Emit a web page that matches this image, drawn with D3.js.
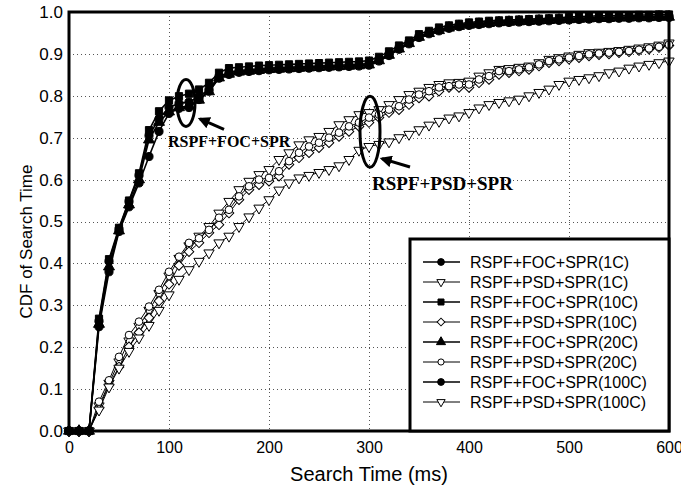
<!DOCTYPE html>
<meta charset="utf-8">
<style>
  body { margin: 0; background: #fff; }
</style>
<svg width="681" height="489" font-family="Liberation Sans, Arial, sans-serif"></svg>
<script src="https://d3js.org/d3.v7.min.js"></script>
<script>
// sample times (ms)
var times = [0, 10, 20, 30, 40, 50, 60, 70, 80, 90,
  100, 110, 120, 130, 140, 150, 160, 170, 180, 190,
  200, 210, 220, 230, 240, 250, 260, 270, 280, 290,
  300, 310, 320, 330, 340, 350, 360, 370, 380, 390,
  400, 410, 420, 430, 440, 450, 460, 470, 480, 490,
  500, 510, 520, 530, 540, 550, 560, 570, 580, 590,
  600]

var focC1 = [0, 0, 0, 0.262, 0.405, 0.482, 0.548, 0.610, 0.705, 0.745,
  0.772, 0.782, 0.785, 0.798, 0.816, 0.846, 0.856, 0.860, 0.862, 0.864,
  0.866, 0.867, 0.868, 0.869, 0.870, 0.871, 0.872, 0.873, 0.874, 0.875,
  0.877, 0.887, 0.900, 0.915, 0.928, 0.942, 0.951, 0.958, 0.964, 0.968,
  0.971, 0.973, 0.975, 0.977, 0.978, 0.979, 0.980, 0.981, 0.982, 0.983,
  0.984, 0.985, 0.986, 0.987, 0.987, 0.988, 0.988, 0.989, 0.989, 0.990,
  0.990]
var psdC1 = [0, 0, 0, 0.060, 0.114, 0.165, 0.215, 0.250, 0.288, 0.328,
  0.370, 0.412, 0.442, 0.465, 0.488, 0.520, 0.548, 0.576, 0.596, 0.612,
  0.624, 0.648, 0.664, 0.683, 0.695, 0.703, 0.715, 0.731, 0.743, 0.755,
  0.760, 0.767, 0.779, 0.791, 0.803, 0.811, 0.820, 0.827, 0.831, 0.832,
  0.835, 0.847, 0.855, 0.863, 0.865, 0.868, 0.871, 0.879, 0.887, 0.891,
  0.895, 0.899, 0.903, 0.904, 0.906, 0.908, 0.911, 0.914, 0.917, 0.921,
  0.926]
var focC10 = [0, 0, 0, 0.268, 0.410, 0.485, 0.550, 0.615, 0.718, 0.763,
  0.789, 0.799, 0.805, 0.815, 0.831, 0.855, 0.866, 0.868, 0.870, 0.872,
  0.873, 0.874, 0.875, 0.876, 0.877, 0.878, 0.879, 0.880, 0.881, 0.882,
  0.884, 0.893, 0.906, 0.920, 0.932, 0.947, 0.955, 0.963, 0.968, 0.972,
  0.975, 0.977, 0.979, 0.980, 0.981, 0.982, 0.983, 0.984, 0.985, 0.986,
  0.988, 0.989, 0.990, 0.991, 0.991, 0.992, 0.992, 0.993, 0.993, 0.994,
  0.994]
var psdC10 = [0, 0, 0, 0.055, 0.110, 0.153, 0.201, 0.235, 0.270, 0.310,
  0.350, 0.395, 0.428, 0.449, 0.473, 0.492, 0.520, 0.552, 0.576, 0.588,
  0.596, 0.608, 0.636, 0.652, 0.664, 0.676, 0.688, 0.703, 0.715, 0.727,
  0.736, 0.748, 0.760, 0.767, 0.779, 0.795, 0.799, 0.811, 0.820, 0.820,
  0.820, 0.831, 0.839, 0.851, 0.855, 0.859, 0.863, 0.871, 0.879, 0.883,
  0.887, 0.891, 0.895, 0.898, 0.900, 0.903, 0.905, 0.908, 0.911, 0.915,
  0.920]
var focC20 = [0, 0, 0, 0.255, 0.392, 0.478, 0.540, 0.600, 0.695, 0.737,
  0.762, 0.772, 0.776, 0.790, 0.810, 0.843, 0.852, 0.857, 0.859, 0.861,
  0.863, 0.864, 0.865, 0.866, 0.867, 0.868, 0.869, 0.870, 0.871, 0.872,
  0.874, 0.884, 0.897, 0.912, 0.925, 0.940, 0.949, 0.956, 0.962, 0.966,
  0.969, 0.971, 0.973, 0.975, 0.976, 0.977, 0.978, 0.979, 0.980, 0.981,
  0.982, 0.983, 0.984, 0.985, 0.985, 0.986, 0.986, 0.987, 0.987, 0.988,
  0.988]
var psdC20 = [0, 0, 0, 0.070, 0.121, 0.177, 0.229, 0.261, 0.297, 0.337,
  0.380, 0.416, 0.449, 0.460, 0.480, 0.509, 0.528, 0.560, 0.584, 0.600,
  0.604, 0.620, 0.644, 0.664, 0.679, 0.688, 0.700, 0.712, 0.727, 0.736,
  0.748, 0.755, 0.767, 0.775, 0.791, 0.803, 0.811, 0.820, 0.823, 0.827,
  0.827, 0.839, 0.847, 0.859, 0.859, 0.863, 0.868, 0.875, 0.883, 0.887,
  0.891, 0.895, 0.899, 0.901, 0.903, 0.905, 0.907, 0.910, 0.913, 0.917,
  0.922]
var focC100 = [0, 0, 0, 0.249, 0.380, 0.476, 0.535, 0.592, 0.655, 0.715,
  0.758, 0.770, 0.772, 0.791, 0.811, 0.842, 0.851, 0.856, 0.858, 0.860,
  0.862, 0.863, 0.864, 0.865, 0.866, 0.867, 0.868, 0.869, 0.870, 0.871,
  0.873, 0.883, 0.896, 0.911, 0.924, 0.939, 0.948, 0.955, 0.961, 0.965,
  0.968, 0.970, 0.972, 0.974, 0.975, 0.976, 0.977, 0.978, 0.979, 0.980,
  0.981, 0.982, 0.983, 0.984, 0.984, 0.985, 0.985, 0.986, 0.986, 0.987,
  0.987]
var psdC100 = [0, 0, 0, 0.050, 0.105, 0.150, 0.190, 0.222, 0.252, 0.288,
  0.325, 0.362, 0.385, 0.405, 0.425, 0.449, 0.465, 0.488, 0.511, 0.532,
  0.552, 0.575, 0.592, 0.604, 0.610, 0.617, 0.624, 0.633, 0.648, 0.670,
  0.679, 0.684, 0.690, 0.700, 0.708, 0.719, 0.730, 0.739, 0.747, 0.752,
  0.760, 0.771, 0.779, 0.784, 0.788, 0.792, 0.800, 0.808, 0.816, 0.827,
  0.835, 0.839, 0.843, 0.848, 0.855, 0.859, 0.866, 0.871, 0.875, 0.879,
  0.883]

var seriesNames = ['RSPF+FOC+SPR(1C)', 'RSPF+PSD+SPR(1C)', 'RSPF+FOC+SPR(10C)', 'RSPF+PSD+SPR(10C)',
  'RSPF+FOC+SPR(20C)', 'RSPF+PSD+SPR(20C)', 'RSPF+FOC+SPR(100C)', 'RSPF+PSD+SPR(100C)']
var seriesValues = [focC1, psdC1, focC10, psdC10, focC20, psdC20, focC100, psdC100]
var seriesMarks = ['circle', 'down', 'square', 'diamond', 'triangle', 'circle', 'circle', 'down']
var seriesFilled = [true, false, true, false, true, false, true, false]

var xTicks = [0, 100, 200, 300, 400, 500, 600]
var yTicks = [0, 0.1, 0.2, 0.3, 0.4, 0.5, 0.6, 0.7, 0.8, 0.9, 1.0]

var sans = '"Liberation Sans", Arial, sans-serif'
var serif = '"Liberation Serif", "Times New Roman", serif'

var svg = d3.select('svg')
var x = d3.scaleLinear().domain([0, 600]).range([69, 669])
var y = d3.scaleLinear().domain([0, 1]).range([431, 12])

// grid
var grid = svg.append('g').attr('stroke', '#555').attr('stroke-width', 1).attr('stroke-dasharray', '1,3')
grid.selectAll('.gx').data(xTicks.slice(1, -1)).enter().append('line')
  .attr('x1', function (d) { return Math.round(x(d)) + 0.5 }).attr('x2', function (d) { return Math.round(x(d)) + 0.5 })
  .attr('y1', y(1)).attr('y2', y(0))
grid.selectAll('.gy').data(yTicks.slice(1, -1)).enter().append('line')
  .attr('y1', function (d) { return Math.round(y(d)) + 0.5 }).attr('y2', function (d) { return Math.round(y(d)) + 0.5 })
  .attr('x1', x(0)).attr('x2', x(600))

// axes (labels only)
var xAxis = svg.append('g').attr('transform', 'translate(0,' + y(0) + ')')
  .call(d3.axisBottom(x).tickValues(xTicks).tickSize(0).tickPadding(11))
xAxis.selectAll('text').attr('font-size', 16)
var yAxis = svg.append('g').attr('transform', 'translate(' + x(0) + ',0)')
  .call(d3.axisLeft(y).tickValues(yTicks).tickSize(0).tickPadding(6).tickFormat(d3.format('.1f')))
yAxis.selectAll('text').attr('font-size', 17)
svg.selectAll('.domain').remove()
svg.selectAll('.tick text').attr('font-family', sans).attr('fill', '#000')

svg.append('text').attr('x', 369).attr('y', 481).attr('text-anchor', 'middle')
  .attr('font-family', sans).attr('font-size', 20).text('Search Time (ms)')
svg.append('text').attr('transform', 'translate(32,' + ((y(0) + y(1)) / 2 + 20) + ') rotate(-90)')
  .attr('text-anchor', 'middle').attr('font-family', sans).attr('font-size', 17).text('CDF of Search Time')

function markPath(kind, size) {
  if (kind === 'circle') return d3.symbol(d3.symbolCircle, size)()
  if (kind === 'square') return d3.symbol(d3.symbolSquare, size)()
  if (kind === 'triangle') return d3.symbol(d3.symbolTriangle, size)()
  if (kind === 'down') return d3.symbol(d3.symbolTriangle, size)()
  if (kind === 'diamond') return d3.symbol(d3.symbolSquare, size)()
}
function markRotate(kind) {
  return kind === 'down' ? ' rotate(180)' : kind === 'diamond' ? ' rotate(45)' : ''
}

var line = d3.line()
  .x(function (d, i) { return x(times[i]) })
  .y(function (d) { return y(d) })

// draw PSD series first then FOC on top
var order = [1, 3, 5, 7, 0, 2, 4, 6]
var plot = svg.append('g')
order.forEach(function (s) {
  var vals = seriesValues[s]
  var filled = seriesFilled[s]
  var g = plot.append('g')
  g.append('path').attr('d', line(vals)).attr('fill', 'none')
    .attr('stroke', '#000').attr('stroke-width', filled ? 1.6 : 1)
  g.selectAll('path.m').data(vals).enter().append('path').attr('class', 'm')
    .attr('d', markPath(seriesMarks[s], filled ? 52 : 46))
    .attr('transform', function (d, i) { return 'translate(' + x(times[i]) + ',' + y(d) + ')' + markRotate(seriesMarks[s]) })
    .attr('fill', filled ? '#000' : '#fff')
    .attr('stroke', '#000').attr('stroke-width', 1)
})

// frame
svg.append('rect').attr('x', x(0)).attr('y', y(1)).attr('width', x(600) - x(0)).attr('height', y(0) - y(1))
  .attr('fill', 'none').attr('stroke', '#000').attr('stroke-width', 3)

// legend
var legend = svg.append('g')
legend.append('rect').attr('x', 410).attr('y', 239).attr('width', 259).attr('height', 192)
  .attr('fill', '#fff').attr('stroke', '#000').attr('stroke-width', 3)
seriesNames.forEach(function (name, i) {
  var ly = 262 + i * 20
  var filled = seriesFilled[i]
  legend.append('line').attr('x1', 423).attr('x2', 460).attr('y1', ly).attr('y2', ly)
    .attr('stroke', '#000').attr('stroke-width', filled ? 1.6 : 1)
  legend.append('path').attr('d', markPath(seriesMarks[i], filled ? 36 : 30))
    .attr('transform', 'translate(441,' + ly + ')' + markRotate(seriesMarks[i]))
    .attr('fill', filled ? '#000' : '#fff').attr('stroke', '#000').attr('stroke-width', 1)
  legend.append('text').attr('x', 470).attr('y', ly).attr('dy', '0.35em')
    .attr('font-family', sans).attr('font-size', 16).text(name)
})

// annotations
var defs = svg.append('defs')
defs.append('marker').attr('id', 'head').attr('viewBox', '0 0 10 10').attr('refX', 8).attr('refY', 5)
  .attr('markerWidth', 4).attr('markerHeight', 4).attr('orient', 'auto')
  .append('path').attr('d', 'M0,0 L10,5 L0,10 Z').attr('fill', '#000')

var notes = svg.append('g')
notes.append('ellipse').attr('cx', x(117)).attr('cy', y(0.783)).attr('rx', 9).attr('ry', 23.5)
  .attr('fill', 'none').attr('stroke', '#000').attr('stroke-width', 3)
notes.append('line').attr('x1', x(155)).attr('y1', y(0.72)).attr('x2', x(131)).attr('y2', y(0.745))
  .attr('stroke', '#000').attr('stroke-width', 3).attr('marker-end', 'url(#head)')
notes.append('text').attr('x', x(99)).attr('y', y(0.677)).attr('font-family', serif)
  .attr('font-weight', 'bold').attr('font-size', 16).text('RSPF+FOC+SPR')

notes.append('ellipse').attr('cx', x(301)).attr('cy', y(0.714)).attr('rx', 10).attr('ry', 35.5)
  .attr('fill', 'none').attr('stroke', '#000').attr('stroke-width', 3)
notes.append('line').attr('x1', x(341)).attr('y1', y(0.63)).attr('x2', x(313)).attr('y2', y(0.65))
  .attr('stroke', '#000').attr('stroke-width', 3).attr('marker-end', 'url(#head)')
notes.append('text').attr('x', x(303)).attr('y', y(0.575)).attr('font-family', serif)
  .attr('font-weight', 'bold').attr('font-size', 19).text('RSPF+PSD+SPR')
</script>
